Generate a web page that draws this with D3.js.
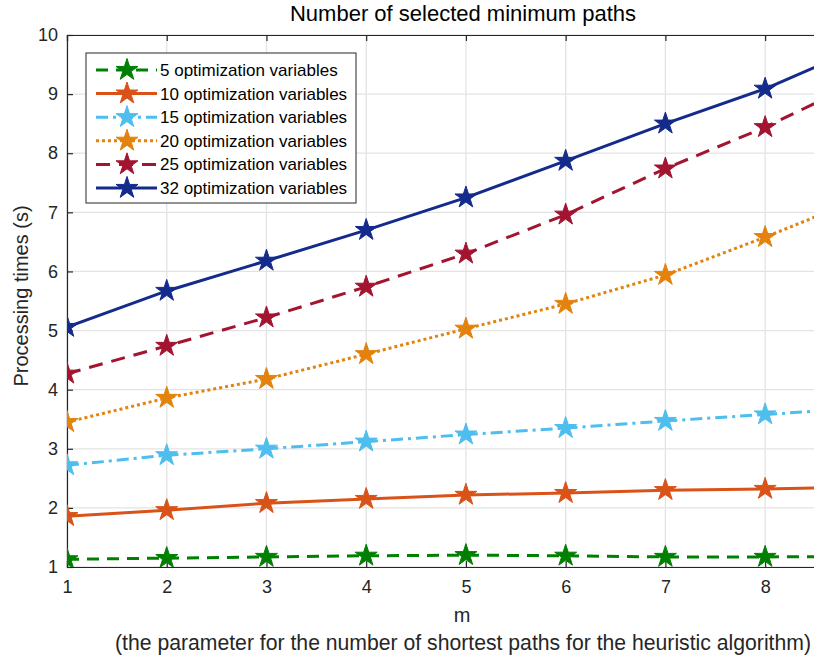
<!DOCTYPE html>
<html><head><meta charset="utf-8">
<script src="https://cdn.jsdelivr.net/npm/d3@7"></script>
<style>body{margin:0;background:#fff;} svg{display:block;font-family:"Liberation Sans",Arial,sans-serif;}</style>
</head><body>
<script>
const xValues = [1, 2, 3, 4, 5, 6, 7, 8, 9];
const seriesNames = ["5 optimization variables","10 optimization variables","15 optimization variables","20 optimization variables","25 optimization variables","32 optimization variables"];
const v5  = [1.13, 1.15, 1.17, 1.19, 1.20, 1.19, 1.17, 1.17, 1.18];
const v10 = [1.86, 1.96, 2.08, 2.15, 2.22, 2.25, 2.30, 2.32, 2.35];
const v15 = [2.72, 2.89, 3.00, 3.12, 3.24, 3.35, 3.47, 3.58, 3.69];
const v20 = [3.45, 3.86, 4.18, 4.60, 5.03, 5.45, 5.94, 6.58, 7.26];
const v25 = [4.27, 4.74, 5.22, 5.74, 6.30, 6.96, 7.74, 8.44, 9.25];
const v32 = [5.06, 5.67, 6.18, 6.70, 7.25, 7.87, 8.50, 9.09, 9.82];
const xTicks = [1,2,3,4,5,6,7,8];
const yTicks = [1,2,3,4,5,6,7,8,9,10];
const titleText = "Number of selected minimum paths";
const xLabel = "m";
const xSubLabel = "(the parameter for the number of shortest paths for the heuristic algorithm)";
const yLabel = "Processing times (s)";

const colors = ["#008000","#d95319","#4dbeee","#e3820c","#a2142f","#142b8c"];
const dashes = ["12,8", null, "12,5,3,5", "3,3", "14,9", null];
const allVals = [v5,v10,v15,v20,v25,v32];

const W = 814, H = 660;
const svg = d3.select("body").append("svg").attr("width", W).attr("height", H);
const x = d3.scaleLinear().domain([1, 8.5]).range([67, 815]);
const y = d3.scaleLinear().domain([1, 10]).range([567, 35]);

const defs = svg.append("defs");
defs.append("clipPath").attr("id","clip").append("rect")
  .attr("x",67).attr("y",35).attr("width",748).attr("height",532);

// grid
const g = svg.append("g");
g.selectAll(".gx").data(xTicks).join("line")
  .attr("x1", d=>x(d)).attr("x2", d=>x(d)).attr("y1",35).attr("y2",567)
  .attr("stroke","#e3e3e3").attr("stroke-width",1.3);
g.selectAll(".gy").data(yTicks).join("line")
  .attr("x1",67).attr("x2",815).attr("y1", d=>y(d)).attr("y2", d=>y(d))
  .attr("stroke","#e3e3e3").attr("stroke-width",1.3);

// axes
const xAxis = svg.append("g").attr("transform","translate(0,567)")
  .call(d3.axisBottom(x).tickValues(xTicks).tickSize(-6).tickPadding(13).tickFormat(d3.format("d")));
const yAxis = svg.append("g").attr("transform","translate(67,0)")
  .call(d3.axisLeft(y).tickValues(yTicks).tickSize(-6).tickPadding(9).tickFormat(d3.format("d")));
const xTop = svg.append("g").attr("transform","translate(0,35)")
  .call(d3.axisTop(x).tickValues(xTicks).tickSize(-6).tickFormat(""));
[xAxis,yAxis,xTop].forEach(a=>{
  a.select(".domain").attr("stroke","#262626").attr("stroke-width",1.2);
  a.selectAll(".tick line").attr("stroke","#262626").attr("stroke-width",1.2);
  a.selectAll("text").attr("fill","#262626").style("font-size","18px").style("font-family","'Liberation Sans',Arial,sans-serif");
});

// lines
const plot = svg.append("g").attr("clip-path","url(#clip)");
const line = d3.line().x((d,i)=>x(xValues[i])).y(d=>y(d));
const star = d3.symbol().type(d3.symbolStar).size(150);
allVals.forEach((vals,k)=>{
  plot.append("path").datum(vals).attr("d", line).attr("fill","none")
    .attr("stroke", colors[k]).attr("stroke-width",3)
    .attr("stroke-dasharray", dashes[k]);
  plot.selectAll(".m"+k).data(vals.slice(0,8)).join("path")
    .attr("d", star).attr("transform",(d,i)=>`translate(${x(xValues[i])},${y(d)})`)
    .attr("fill", colors[k]).attr("stroke", colors[k]).attr("stroke-width",1);
});

// legend
const lg = svg.append("g");
lg.append("rect").attr("x",86).attr("y",53).attr("width",270).attr("height",150)
  .attr("fill","#fff").attr("stroke","#262626").attr("stroke-width",1);
seriesNames.forEach((name,k)=>{
  const yy = 70 + k*23.6;
  lg.append("line").attr("x1",96).attr("x2",157).attr("y1",yy).attr("y2",yy)
    .attr("stroke",colors[k]).attr("stroke-width",3).attr("stroke-dasharray",dashes[k]);
  lg.append("path").attr("d",star).attr("transform",`translate(127,${yy})`)
    .attr("fill",colors[k]).attr("stroke",colors[k]);
  lg.append("text").attr("x",160).attr("y",yy+6).text(name)
    .attr("fill","#000").style("font-size","17px");
});

// titles
svg.append("text").attr("x",463).attr("y",21).attr("text-anchor","middle")
  .style("font-size","22px").attr("fill","#000").text(titleText);
svg.append("text").attr("x",462).attr("y",622).attr("text-anchor","middle")
  .style("font-size","20px").attr("fill","#262626").text(xLabel);
svg.append("text").attr("x",463).attr("y",650).attr("text-anchor","middle")
  .style("font-size","21.2px").attr("fill","#262626").text(xSubLabel);
svg.append("text").attr("transform","translate(28,296) rotate(-90)").attr("text-anchor","middle")
  .style("font-size","20px").attr("fill","#262626").text(yLabel);
</script>
</body></html>
